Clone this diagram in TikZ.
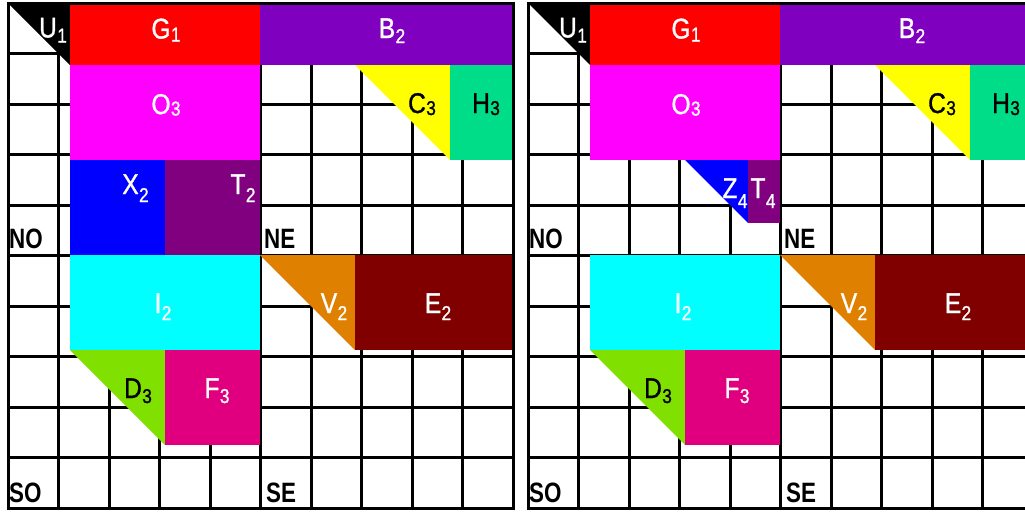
\documentclass[tikz,border=0pt]{standalone}
\usepackage{fontspec}
\setmainfont{Liberation Sans}
\newfontfamily\labfont[FakeBold=1.2]{Liberation Sans}
\definecolor{cRed}{HTML}{FF0000}
\definecolor{cPurB}{HTML}{8000C0}
\definecolor{cMag}{HTML}{FF00FF}
\definecolor{cBlue}{HTML}{0000FF}
\definecolor{cPurT}{HTML}{800080}
\definecolor{cYel}{HTML}{FFFF00}
\definecolor{cGrn}{HTML}{00DD88}
\definecolor{cCyan}{HTML}{00FFFF}
\definecolor{cOrg}{HTML}{E08000}
\definecolor{cDRed}{HTML}{800000}
\definecolor{cLime}{HTML}{80E000}
\definecolor{cPink}{HTML}{E0007F}
\newcommand\lbl[3][5]{\scalebox{0.86}[1]{\labfont{\fontsize{28.5}{28.5}\selectfont #2}\kern0.5pt\raisebox{-#1pt}{\fontsize{20}{20}\selectfont #3}}}
\newcommand\crn[1]{\scalebox{0.8}[1]{#1}}
\newcommand\mypanel[2]{%
  \begin{scope}[xshift=#1]
    \foreach \i in {1,...,9} {
      \draw[gridline] ({8+50.5*\i},3) -- ({8+50.5*\i},508);
      \draw[gridline] (8,{3+50.5*\i}) -- (513,{3+50.5*\i});
    }
    \fill[black] (8,3) -- (70,3) -- (70,65) -- cycle;
    \fill[cRed] (70,3) rectangle (260,65);
    \fill[cPurB] (260,3) rectangle (513,65);
    \fill[cMag] (70,65) rectangle (260,160);
    \fill[cYel] (355,65) -- (450,65) -- (450,160) -- cycle;
    \fill[cGrn] (450,65) rectangle (513,160);
    \fill[cCyan] (70,255) rectangle (260,350);
    \fill[cOrg] (260,255) -- (355,255) -- (355,350) -- cycle;
    \fill[cDRed] (355,255) rectangle (513,350);
    \fill[cLime] (70,350) -- (165,350) -- (165,445) -- cycle;
    \fill[cPink] (165,350) rectangle (260,445);
    #2
    \draw[gridline] (8,3) rectangle (513,508);
    \node[lab] at (53,37.5) {\lbl[5]{U}{1}};
    \node[lab] at (166,38.5) {\lbl[3]{G}{1}};
    \node[lab] at (166,114) {\lbl[1.5]{O}{3}};
    \node[lab] at (163,313) {\lbl[7]{I}{2}};
    \node[labk] at (138,398) {\lbl[5]{D}{3}};
    \node[lab] at (217,398) {\lbl[5]{F}{3}};
    \node[lab] at (392,38) {\lbl[5]{B}{2}};
    \node[labk] at (422,113) {\lbl[2]{C}{3}};
    \node[labk] at (486,113) {\lbl[2]{H}{3}};
    \node[lab] at (334,313) {\lbl[7]{V}{2}};
    \node[lab] at (438,313) {\lbl[7]{E}{2}};
    \node[corner] at (9,248) {\crn{NO}};
    \node[corner] at (264,248) {\crn{NE}};
    \node[corner] at (9,502) {\crn{SO}};
    \node[corner] at (266,502) {\crn{SE}};
  \end{scope}}
\tikzset{
  gridline/.style={line width=3pt, black},
  lab/.style={inner sep=0pt, anchor=base, text=white},
  labk/.style={lab, text=black},
  corner/.style={inner sep=0pt, anchor=base west, font=\bfseries\fontsize{28}{28}\selectfont},
}
\begin{document}
\begin{tikzpicture}[x=1pt,y=-1pt]
  \useasboundingbox (0,0) rectangle (1025,512);
  \clip (0,0) rectangle (1025,512);
  \fill[white] (0,0) rectangle (1025,512);
  \mypanel{0pt}{%
    \fill[cBlue] (70,160) rectangle (165,255);
    \fill[cPurT] (165,160) rectangle (260,255);
    \node[lab] (X2) at (135.5,194) {\lbl[8]{X}{2}};
    \node[lab] (T2) at (243,194) {\lbl[8]{T}{2}};
  }
  \mypanel{520pt}{%
    \fill[cBlue] (165,160) -- (228,160) -- (228,223) -- cycle;
    \fill[cPurT] (228,160) rectangle (260,223);
    \node[lab] (Z4) at (215,198) {\lbl[10]{Z}{4}};
    \node[lab] (T4) at (243,198) {\lbl[10]{T}{4}};
  }
\end{tikzpicture}
\end{document}
